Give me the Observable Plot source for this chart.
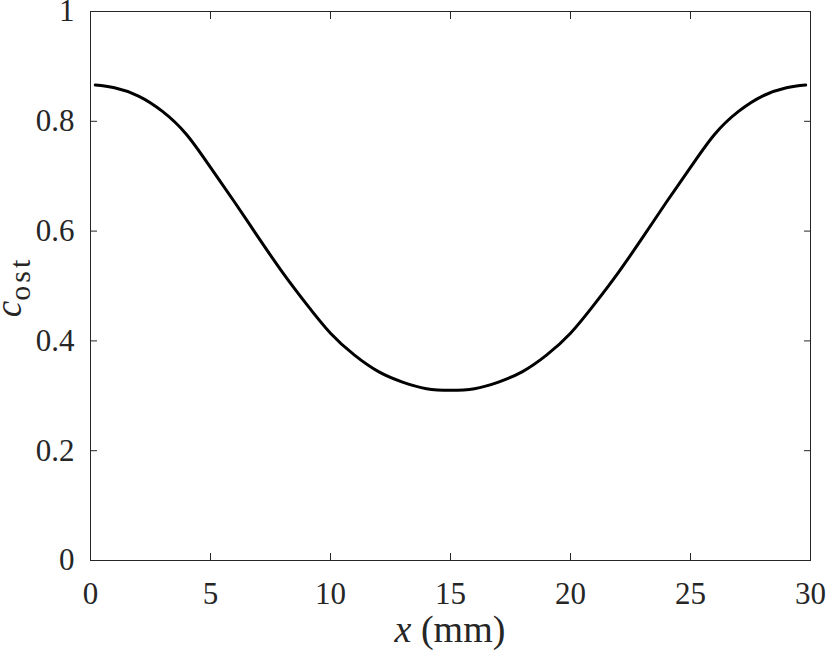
<!DOCTYPE html>
<html><head><meta charset="utf-8">
<script src="https://cdn.jsdelivr.net/npm/d3@7"></script>
<script src="https://cdn.jsdelivr.net/npm/@observablehq/plot@0.6"></script>
<style>html,body{margin:0;padding:0;background:#fff}</style>
</head><body><div id="chart"></div>
<script>
const xMm = [0.2, 1, 2, 3, 4, 5, 6, 7, 8, 9, 10, 11, 12, 13, 14, 15,
             16, 17, 18, 19, 20, 21, 22, 23, 24, 25, 26, 27, 28, 29, 29.8];
const cOst = [0.866, 0.861, 0.846, 0.818, 0.776, 0.716, 0.653, 0.588, 0.525, 0.467, 0.414, 0.374, 0.344, 0.325, 0.313, 0.310,
              0.313, 0.325, 0.344, 0.374, 0.414, 0.467, 0.525, 0.588, 0.653, 0.716, 0.776, 0.818, 0.846, 0.861, 0.866];
const xTicks = [0, 5, 10, 15, 20, 25, 30];
const yTicks = [0, 0.2, 0.4, 0.6, 0.8, 1];

const data = xMm.map((x, i) => ({x, y: cOst[i]}));
const font = "'Liberation Serif', 'Times New Roman', Times, serif";
const axisColor = "#262626";

const chart = Plot.plot({
  width: 830, height: 654,
  marginLeft: 90, marginRight: 20, marginTop: 11, marginBottom: 94,
  style: {fontFamily: font, fontSize: "31px", color: axisColor, background: "#fff", overflow: "visible"},
  x: {domain: [0, 30], label: null},
  y: {domain: [0, 1], label: null},
  marks: [
    Plot.line(data, {x: "x", y: "y", stroke: "black", strokeWidth: 3, curve: "natural"}),
    Plot.frame({stroke: axisColor, strokeWidth: 1}),
    Plot.axisX({anchor: "bottom", ticks: xTicks, tickSize: -7, tickPadding: 28, label: null,
                fontSize: 31, fontFamily: font, tickFormat: d => String(d)}),
    Plot.axisX({anchor: "top", ticks: xTicks, tickSize: -7, label: null, tickFormat: () => ""}),
    Plot.axisY({anchor: "left", ticks: yTicks, tickSize: -7, tickPadding: 23, label: null,
                fontSize: 31, fontFamily: font, tickFormat: d => String(d)}),
    Plot.axisY({anchor: "right", ticks: yTicks, tickSize: -7, label: null, tickFormat: () => ""})
  ]
});

const svg = d3.select(chart);
const xl = svg.append("text")
  .attr("x", 450).attr("y", 642)
  .attr("text-anchor", "middle")
  .attr("font-family", font).attr("font-size", 38).attr("fill", axisColor);
xl.append("tspan").attr("font-style", "italic").text("x");
xl.append("tspan").text(" (mm)");

const yl = svg.append("text")
  .attr("transform", "translate(21,287) rotate(-90)")
  .attr("text-anchor", "middle")
  .attr("font-family", font).attr("font-size", 37).attr("fill", axisColor);
yl.append("tspan").attr("font-style", "italic").text("c");
yl.append("tspan").attr("font-size", 30).attr("letter-spacing", 3).attr("dy", 9).text("ost");

document.getElementById("chart").appendChild(chart);
</script>
</body></html>
